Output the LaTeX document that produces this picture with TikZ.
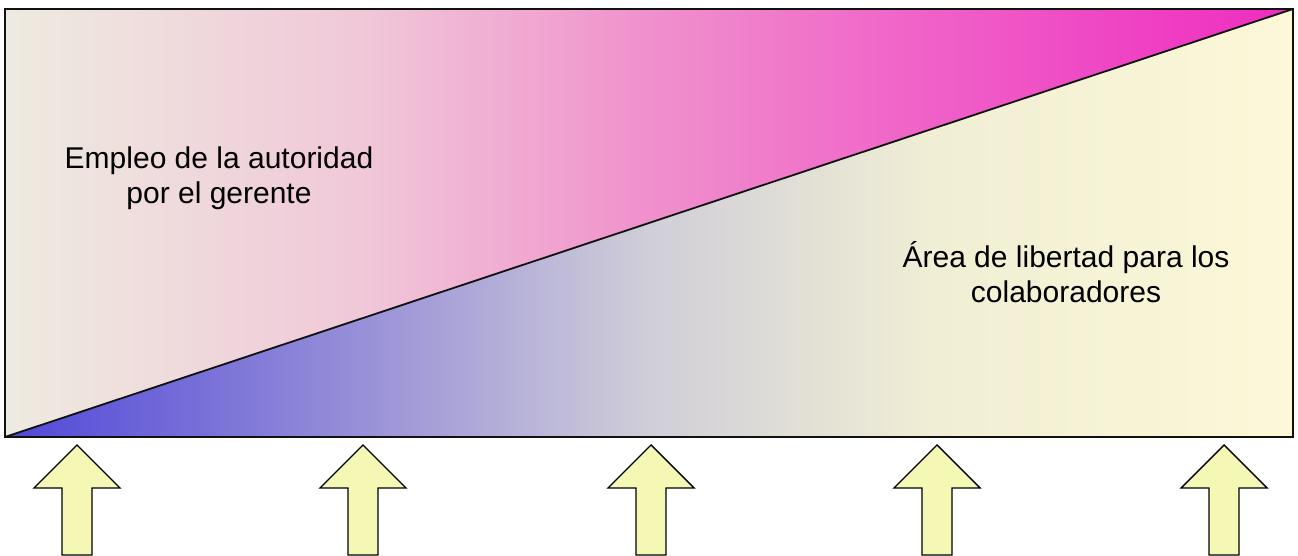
\documentclass[tikz,border=0pt]{standalone}
\usepackage{fontspec}
\setmainfont{Liberation Sans}
\usepackage{tikz}
\usepackage{xcolor}
\usetikzlibrary{positioning,calc}
\definecolor{auframe}{HTML}{111111}
\definecolor{auarrow}{HTML}{F5F7B5}
\definecolor{aubeige}{HTML}{EEEBE0}
\definecolor{aupinkl}{HTML}{F0C8D8}
\definecolor{aupinkm}{HTML}{F090CC}
\definecolor{aupinkd}{HTML}{F060C8}
\definecolor{aumagenta}{HTML}{EE2CC0}
\definecolor{aublue}{HTML}{5048D8}
\definecolor{aubluel}{HTML}{9890D8}
\definecolor{augrey}{HTML}{D0CED8}
\definecolor{aucream}{HTML}{F0EED4}
\definecolor{auyellow}{HTML}{FCF8D8}
\pgfdeclarehorizontalshading{autoridad}{100bp}{%
  color(0bp)=(aubeige); color(25bp)=(aubeige); color(38.8bp)=(aupinkl);
  color(50bp)=(aupinkm); color(61bp)=(aupinkd); color(75bp)=(aumagenta);
  color(100bp)=(aumagenta)}
\pgfdeclarehorizontalshading{libertad}{100bp}{%
  color(0bp)=(aublue); color(25bp)=(aublue); color(38.8bp)=(aubluel);
  color(50bp)=(augrey); color(61bp)=(aucream); color(75bp)=(auyellow);
  color(100bp)=(auyellow)}
\tikzset{
  frame/.style      = {draw=auframe, line width=2pt},
  divide/.style     = {draw=auframe, line width=1.8pt},
  uparrow/.style    = {draw=black, fill=auarrow, line width=1.4pt,
                       line join=miter},
  bigtext/.style    = {align=center, font=\fontsize{30}{35}\selectfont,
                       inner sep=0pt, text=black},
}

\begin{document}
\begin{tikzpicture}[x=1pt, y=1pt]
  \useasboundingbox (0,0) rectangle (1298,556);

  % ---------- the two triangles --------------------------------------------
  \coordinate (bl) at (5,119);
  \coordinate (br) at (1293,119);
  \coordinate (tl) at (5,547);
  \coordinate (tr) at (1293,547);
  \shade[shading=autoridad] (bl) -- (tl) -- (tr) -- cycle;
  \shade[shading=libertad]  (bl) -- (br) -- (tr) -- cycle;
  \draw[divide] (bl) -- (tr);
  \draw[frame] (bl) rectangle (tr);

  % ---------- labels -------------------------------------------------------
  \node[bigtext] (gerente) at (219,378) {Empleo de la autoridad\\ por el gerente};
  \node[bigtext] (colab) at (1066,284) {Área de libertad para los\\ colaboradores};

  % ---------- arrows under the box -----------------------------------------
  \foreach \cx [count=\i] in {77,363,651,937,1224} {
    \coordinate (tip\i) at (\cx,111);
    \draw[uparrow] (tip\i) -- ++(43,-43) -- ++(-28,0) -- ++(0,-67)
      -- ++(-30,0) -- ++(0,67) -- ++(-28,0) -- cycle;
  }

\end{tikzpicture}
\end{document}
